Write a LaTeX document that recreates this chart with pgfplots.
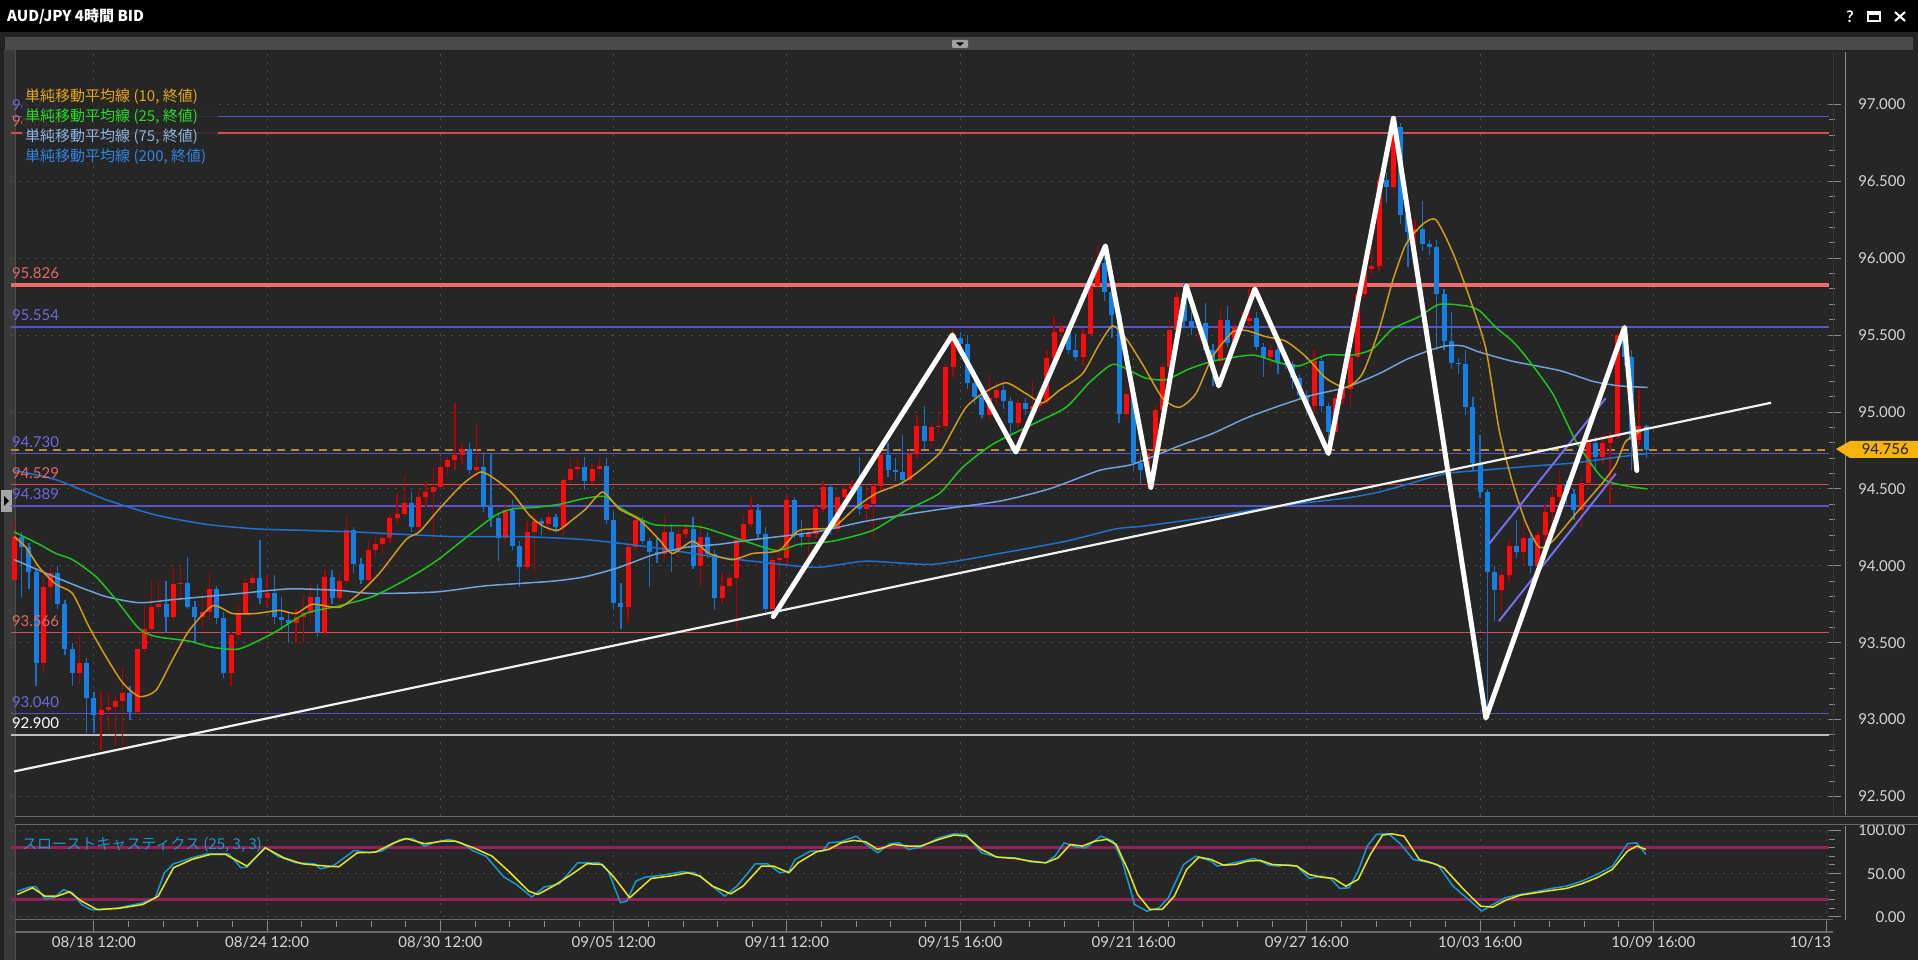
\documentclass[border=0pt]{standalone}
\usepackage{pgfplots}
\usepackage{pgfplotstable}
\pgfplotsset{compat=1.18}
\usepackage{fontspec}
\setmainfont{Lato}
\newfontfamily\jp{Noto Sans CJK JP}

\definecolor{winbg}{HTML}{232323}
\definecolor{plotbg}{HTML}{262626}
\definecolor{stripc}{HTML}{3A3A3A}
\definecolor{barc}{HTML}{4A4A4A}
\definecolor{gridc}{HTML}{4E4E4E}
\definecolor{tickc}{HTML}{8C8C8C}
\definecolor{lblc}{HTML}{D6D6D6}
\definecolor{sepc}{HTML}{6A6A6A}
\definecolor{hblue}{HTML}{5555C8}
\definecolor{hbluet}{HTML}{6A6AE0}
\definecolor{hred}{HTML}{D05050}
\definecolor{hredt}{HTML}{E06A6A}
\definecolor{hredk}{HTML}{F06A6A}
\definecolor{hwhite}{HTML}{BEBEBE}
\definecolor{upbody}{HTML}{FF0A0A}
\definecolor{upwick}{HTML}{B40000}
\definecolor{dnbody}{HTML}{1480E6}
\definecolor{dnwick}{HTML}{1A6EC8}
\definecolor{maA}{HTML}{D49A1A}
\definecolor{maB}{HTML}{1EC41E}
\definecolor{maC}{HTML}{6FA3D8}
\definecolor{maD}{HTML}{1C72D0}
\definecolor{legA}{HTML}{E6A817}
\definecolor{legB}{HTML}{22E022}
\definecolor{legC}{HTML}{8AB4E6}
\definecolor{legD}{HTML}{2E86E6}
\definecolor{chan}{HTML}{7070F0}
\definecolor{gold}{HTML}{F5B40A}
\definecolor{golddash}{HTML}{B48C32}
\definecolor{stK}{HTML}{1898CC}
\definecolor{stD}{HTML}{E8E620}
\definecolor{stL}{HTML}{96205A}

% 4h candles, bar index b (24 bars between date labels)
\pgfplotstableread{
b o h l c
1 93.91 94.29 93.90 94.19
2 94.19 94.22 93.80 94.12
3 94.12 94.15 93.85 93.96
4 93.96 93.98 93.22 93.37
5 93.37 93.97 93.30 93.86
6 93.86 93.99 93.78 93.95
7 93.95 94.00 93.72 93.75
8 93.75 93.78 93.42 93.46
9 93.46 93.50 93.22 93.30
10 93.30 93.55 93.23 93.37
11 93.37 93.40 92.91 93.14
12 93.14 93.18 92.91 93.03
13 93.03 93.18 92.80 93.06
14 93.06 93.18 92.91 93.08
15 93.08 93.16 92.83 93.12
16 93.12 93.34 92.83 93.17
17 93.17 93.22 93.00 93.05
18 93.05 93.47 93.03 93.46
19 93.46 93.74 93.44 93.59
20 93.59 93.91 93.52 93.73
21 93.73 93.91 93.70 93.75
22 93.75 93.90 93.56 93.67
23 93.67 94.00 93.65 93.88
24 93.88 94.00 93.77 93.89
25 93.89 94.06 93.72 93.73
26 93.73 93.77 93.50 93.67
27 93.67 93.80 93.60 93.70
28 93.70 93.95 93.65 93.85
29 93.85 93.87 93.62 93.66
30 93.66 93.70 93.27 93.30
31 93.30 93.57 93.22 93.55
32 93.55 93.75 93.52 93.69
33 93.69 93.93 93.66 93.89
34 93.89 93.96 93.85 93.92
35 93.92 94.17 93.75 93.79
36 93.79 93.94 93.74 93.82
37 93.82 93.94 93.62 93.67
38 93.67 93.80 93.58 93.65
39 93.65 93.70 93.50 93.63
40 93.63 93.72 93.50 93.67
41 93.67 93.81 93.49 93.69
42 93.69 93.88 93.63 93.80
43 93.80 93.88 93.54 93.57
44 93.57 93.97 93.55 93.93
45 93.93 93.97 93.75 93.79
46 93.79 93.95 93.77 93.90
47 93.90 94.33 93.88 94.23
48 94.23 94.25 93.95 94.01
49 94.01 94.05 93.88 93.91
50 93.91 94.17 93.88 94.10
51 94.10 94.20 94.05 94.14
52 94.14 94.22 94.08 94.18
53 94.18 94.33 94.15 94.31
54 94.31 94.47 94.28 94.34
55 94.34 94.59 94.32 94.41
56 94.41 94.48 94.22 94.25
57 94.25 94.48 94.23 94.45
58 94.45 94.55 94.38 94.48
59 94.48 94.64 94.17 94.51
60 94.51 94.70 94.49 94.64
61 94.64 94.71 94.60 94.69
62 94.69 95.06 94.62 94.72
63 94.72 94.79 94.66 94.76
64 94.76 94.80 94.60 94.62
65 94.62 94.93 94.58 94.64
66 94.64 94.73 94.35 94.38
67 94.38 94.73 94.25 94.31
68 94.31 94.34 94.03 94.18
69 94.18 94.40 94.15 94.36
70 94.36 94.43 94.10 94.13
71 94.13 94.16 93.86 93.99
72 93.99 94.29 93.97 94.22
73 94.22 94.33 93.95 94.29
74 94.29 94.31 94.20 94.27
75 94.27 94.35 94.22 94.32
76 94.32 94.34 94.22 94.25
77 94.25 94.58 94.19 94.56
78 94.56 94.71 94.54 94.63
79 94.63 94.70 94.58 94.64
80 94.64 94.71 94.49 94.55
81 94.55 94.66 94.53 94.63
82 94.63 94.70 94.60 94.65
83 94.65 94.70 94.27 94.30
84 94.30 94.35 93.71 93.76
85 93.76 93.89 93.59 93.73
86 93.73 94.14 93.63 94.12
87 94.12 94.33 94.10 94.30
88 94.30 94.32 94.14 94.16
89 94.16 94.18 93.86 94.09
90 94.09 94.18 94.02 94.08
91 94.08 94.33 94.05 94.22
92 94.22 94.27 93.96 94.11
93 94.11 94.25 94.05 94.21
94 94.21 94.27 94.18 94.24
95 94.24 94.32 93.98 94.00
96 94.00 94.27 93.87 94.19
97 94.19 94.22 94.05 94.08
98 94.08 94.10 93.71 93.79
99 93.79 93.95 93.76 93.87
100 93.87 93.95 93.84 93.92
101 93.92 94.19 93.59 94.17
102 94.17 94.33 94.14 94.27
103 94.27 94.45 94.25 94.36
104 94.36 94.40 94.18 94.21
105 94.21 94.25 93.70 93.72
106 93.72 94.06 93.66 94.04
107 94.04 94.15 93.90 94.05
108 94.05 94.46 94.01 94.43
109 94.43 94.45 94.18 94.20
110 94.20 94.30 94.12 94.19
111 94.19 94.25 94.02 94.21
112 94.21 94.40 94.18 94.37
113 94.37 94.55 94.35 94.51
114 94.51 94.53 94.20 94.24
115 94.24 94.47 94.22 94.45
116 94.45 94.52 94.40 94.50
117 94.50 94.56 94.46 94.52
118 94.52 94.71 94.33 94.37
119 94.37 94.52 94.30 94.40
120 94.40 94.55 94.18 94.52
121 94.52 94.76 94.48 94.72
122 94.72 94.80 94.58 94.62
123 94.62 94.70 94.55 94.61
124 94.61 94.85 94.52 94.56
125 94.56 94.76 94.52 94.73
126 94.73 94.98 94.70 94.91
127 94.91 95.04 94.76 94.81
128 94.81 94.93 94.78 94.90
129 94.90 95.00 94.86 94.91
130 94.91 95.32 94.88 95.29
131 95.29 95.53 95.23 95.48
132 95.48 95.52 95.40 95.44
133 95.44 95.50 95.15 95.19
134 95.19 95.22 95.05 95.10
135 95.10 95.14 94.96 94.98
136 94.98 95.25 94.95 95.09
137 95.09 95.20 95.05 95.14
138 95.14 95.18 95.02 95.07
139 95.07 95.10 94.74 94.93
140 94.93 95.08 94.90 95.06
141 95.06 95.09 94.98 95.02
142 95.02 95.20 94.98 95.04
143 95.04 95.12 95.00 95.07
144 95.07 95.40 95.05 95.35
145 95.35 95.62 95.33 95.52
146 95.52 95.58 95.45 95.55
147 95.55 95.57 95.38 95.40
148 95.40 95.51 95.33 95.36
149 95.36 95.54 95.30 95.51
150 95.51 95.86 95.49 95.82
151 95.82 96.08 95.80 95.97
152 95.97 96.08 95.72 95.78
153 95.78 95.80 95.48 95.63
154 95.63 95.65 94.93 94.99
155 94.99 95.16 94.95 95.12
156 95.12 95.15 94.62 94.67
157 94.67 94.72 94.53 94.62
158 94.62 94.75 94.51 94.73
159 94.73 95.05 94.70 95.01
160 95.01 95.32 94.98 95.29
161 95.29 95.60 95.25 95.53
162 95.53 95.78 95.50 95.75
163 95.75 95.83 95.55 95.59
164 95.59 95.66 95.50 95.55
165 95.55 95.62 95.48 95.58
166 95.58 95.71 95.38 95.40
167 95.40 95.44 95.17 95.33
168 95.33 95.68 95.30 95.60
169 95.60 95.69 95.42 95.45
170 95.45 95.58 95.40 95.55
171 95.55 95.65 95.52 95.59
172 95.59 95.80 95.55 95.61
173 95.61 95.65 95.40 95.42
174 95.42 95.45 95.23 95.36
175 95.36 95.45 95.30 95.40
176 95.40 95.46 95.25 95.32
177 95.32 95.36 95.28 95.31
178 95.31 95.33 95.15 95.22
179 95.22 95.25 95.08 95.11
180 95.11 95.14 94.98 95.04
181 95.04 95.40 95.00 95.33
182 95.33 95.36 95.00 95.04
183 95.04 95.06 94.73 94.87
184 94.87 95.12 94.85 95.09
185 95.09 95.18 95.05 95.15
186 95.15 95.40 95.03 95.36
187 95.36 95.80 95.33 95.77
188 95.77 95.97 95.74 95.93
189 95.93 96.10 95.90 95.95
190 95.95 96.54 95.92 96.51
191 96.51 96.56 96.36 96.46
192 96.46 96.91 96.42 96.85
193 96.85 96.88 96.22 96.28
194 96.28 96.32 95.94 96.17
195 96.17 96.25 96.02 96.19
196 96.19 96.37 96.05 96.09
197 96.09 96.12 96.02 96.07
198 96.07 96.12 95.40 95.77
199 95.77 95.80 95.40 95.46
200 95.46 95.65 95.28 95.32
201 95.32 95.35 95.25 95.31
202 95.31 95.40 94.98 95.03
203 95.03 95.10 94.62 94.67
204 94.67 94.85 94.44 94.48
205 94.48 94.50 93.01 93.96
206 93.96 94.00 93.64 93.84
207 93.84 93.98 93.70 93.94
208 93.94 94.16 93.90 94.13
209 94.13 94.30 94.05 94.09
210 94.09 94.30 94.00 94.18
211 94.18 94.22 93.95 94.00
212 94.00 94.22 93.97 94.20
213 94.20 94.40 94.15 94.35
214 94.35 94.50 94.25 94.45
215 94.45 94.62 94.40 94.53
216 94.53 94.56 94.40 94.47
217 94.47 94.50 94.30 94.36
218 94.36 94.58 94.25 94.54
219 94.54 94.84 94.50 94.80
220 94.80 94.84 94.62 94.71
221 94.71 94.85 94.66 94.80
222 94.80 94.87 94.40 94.84
223 94.84 95.52 94.82 95.50
224 95.50 95.56 95.30 95.36
225 95.36 95.40 94.62 94.82
226 94.82 95.14 94.78 94.91
227 94.91 94.92 94.70 94.756
}\candles

\pgfplotstableread{
b v
0.97 94.19
2.59 94.12
4.44 93.99
6.74 93.88
9.05 93.82
11.36 93.60
13.67 93.41
15.98 93.24
18.29 93.15
20.60 93.19
22.90 93.39
25.21 93.58
28.44 93.74
31.21 93.69
34.45 93.69
37.68 93.71
39.98 93.69
42.29 93.75
45.99 93.73
48.76 93.82
51.53 93.95
55.22 94.17
57.07 94.22
59.84 94.37
63.07 94.53
65.61 94.61
67.69 94.56
69.99 94.47
72.30 94.33
74.15 94.26
76.23 94.23
78.30 94.30
80.15 94.37
82.46 94.48
84.77 94.37
87.54 94.30
90.31 94.17
92.15 94.08
94.92 94.16
97.23 94.08
100.46 94.04
103.23 94.08
106.93 94.10
109.70 94.23
114.31 94.25
117.55 94.38
120.32 94.47
123.55 94.53
125.86 94.60
129.09 94.73
130.93 94.88
132.78 95.03
135.09 95.12
138.32 95.19
141.09 95.12
143.40 95.06
145.71 95.14
148.94 95.25
151.25 95.44
153.10 95.56
154.94 95.48
157.25 95.31
160.02 95.09
162.33 95.03
164.64 95.12
166.94 95.36
169.71 95.52
171.56 95.53
174.33 95.49
177.10 95.46
179.87 95.36
182.64 95.22
185.41 95.16
187.72 95.25
190.03 95.54
191.87 95.85
193.72 96.09
196.03 96.22
197.88 96.25
200.18 96.04
202.49 95.75
204.80 95.41
206.65 94.88
208.49 94.54
210.34 94.28
212.20 94.12
214.04 94.16
217.28 94.34
220.97 94.54
222.82 94.66
224.20 94.81
227.20 94.90
}\maten

\pgfplotstableread{
b v
0.97 94.22
4.44 94.14
6.74 94.08
9.05 94.04
12.28 93.93
15.06 93.78
18.29 93.59
20.60 93.54
25.21 93.51
28.44 93.47
32.14 93.46
36.76 93.56
41.37 93.69
45.99 93.74
50.60 93.80
55.22 93.91
59.38 94.03
63.99 94.20
67.69 94.33
69.99 94.37
73.23 94.38
76.46 94.40
80.15 94.44
82.92 94.45
84.77 94.38
89.38 94.27
94.00 94.26
96.31 94.25
100.93 94.18
106.47 94.10
109.70 94.14
114.31 94.16
119.85 94.23
124.47 94.36
129.09 94.47
132.32 94.64
136.47 94.79
142.02 94.92
146.63 95.03
149.86 95.19
153.10 95.31
155.86 95.26
157.71 95.22
160.48 95.21
163.71 95.28
166.94 95.33
172.48 95.37
176.18 95.32
178.95 95.30
182.64 95.37
186.33 95.37
189.10 95.41
191.87 95.54
195.57 95.62
198.34 95.70
202.03 95.69
203.88 95.66
206.19 95.55
208.49 95.46
210.34 95.36
214.04 95.12
217.28 94.81
220.97 94.57
224.20 94.52
227.20 94.50
}\matwentyfive

\pgfplotstableread{
b v
0.97 94.04
4.44 93.97
9.05 93.88
13.67 93.80
18.29 93.76
22.90 93.78
27.52 93.80
32.14 93.82
39.06 93.85
45.99 93.84
50.60 93.82
59.38 93.83
66.30 93.87
75.53 93.90
80.15 93.93
84.77 93.99
89.38 94.07
94.00 94.12
98.62 94.14
103.23 94.17
112.00 94.22
118.93 94.29
128.16 94.36
137.40 94.42
144.32 94.50
151.25 94.62
155.86 94.66
162.33 94.78
166.94 94.86
171.56 94.96
176.18 95.04
180.79 95.11
185.41 95.16
190.03 95.25
193.72 95.34
196.95 95.40
199.26 95.43
201.57 95.43
203.88 95.39
208.49 95.33
214.97 95.27
219.58 95.20
223.28 95.17
227.20 95.16
}\maseventyfive

\pgfplotstableread{
b v
0.97 94.62
6.74 94.56
13.67 94.43
20.60 94.33
27.52 94.27
34.45 94.24
41.37 94.23
48.30 94.22
52.45 94.21
61.68 94.19
70.92 94.19
80.15 94.17
89.38 94.12
96.31 94.07
103.23 94.03
112.00 93.99
118.93 94.03
128.16 94.01
137.40 94.08
146.63 94.16
153.56 94.24
157.71 94.26
166.94 94.32
176.18 94.39
185.41 94.44
190.03 94.48
194.65 94.54
199.26 94.60
203.88 94.62
211.73 94.65
217.28 94.67
221.89 94.70
227.20 94.73
}\matwohundred

\pgfplotstableread{
b v
1.40 29.7
3.10 34.4
3.95 35.1
5.22 21.2
6.49 22.0
7.76 31.3
9.04 27.8
10.31 14.3
11.58 8.5
12.85 8.1
15.40 10.4
18.80 16.2
20.50 22.0
21.76 51.0
23.03 61.4
25.58 68.3
27.70 73.0
30.67 73.0
32.36 56.8
33.21 57.5
35.75 80.7
37.45 70.3
40.00 62.5
42.54 61.4
43.39 55.6
45.10 58.7
48.05 76.8
50.17 74.1
51.87 76.1
54.41 89.6
56.11 90.7
57.81 81.9
59.50 86.9
61.20 89.6
62.90 85.7
64.59 76.1
66.29 70.3
68.83 45.9
70.53 37.5
72.65 22.8
74.35 34.4
76.47 38.2
79.01 62.5
81.98 62.5
83.25 52.9
84.95 16.2
85.80 18.1
87.07 41.3
88.34 45.9
90.88 48.3
93.43 52.1
95.13 51.0
96.82 41.3
99.37 23.9
101.06 35.5
103.61 61.4
105.30 61.4
107.00 51.0
108.27 52.9
109.12 66.4
111.24 76.1
112.94 76.1
113.79 85.7
115.48 86.9
117.60 93.4
118.88 84.6
120.57 74.1
122.27 84.6
123.54 85.7
124.81 78.0
126.51 80.7
129.05 91.5
131.12 96.1
132.82 95.4
134.94 74.1
137.06 69.1
139.60 68.3
141.72 63.7
143.84 62.5
145.11 70.3
146.39 85.7
148.08 80.7
149.36 79.9
151.48 93.4
153.17 87.6
154.44 64.5
156.14 14.3
157.84 6.6
159.53 10.4
160.81 22.0
162.93 60.6
164.62 70.3
166.74 64.5
167.59 58.7
168.86 60.6
170.56 63.7
172.68 67.6
174.80 59.8
176.07 58.7
177.35 60.6
178.62 58.7
180.32 44.4
182.01 47.1
183.28 44.4
184.55 32.8
185.83 33.6
187.10 52.9
188.37 81.9
189.64 95.4
191.34 96.1
193.04 83.8
194.73 66.4
196.43 63.7
198.12 60.6
200.25 35.5
202.37 20.1
204.23 6.6
205.76 14.3
207.46 22.0
209.57 25.9
211.70 29.0
213.82 32.8
215.94 35.5
218.06 41.3
220.18 49.0
222.30 58.3
224.42 84.6
225.69 85.7
226.96 72.2
}\stochk

\pgfplotstableread{
b v
1.40 25.9
3.52 33.6
5.22 23.9
6.92 23.9
8.61 29.0
10.31 18.1
12.43 8.5
15.40 9.7
18.79 14.3
20.91 23.9
23.03 56.8
25.58 66.4
28.12 72.2
30.24 72.2
31.94 64.5
33.21 58.7
35.75 79.9
38.30 68.3
40.84 61.4
44.24 58.7
45.93 57.9
48.48 74.1
51.02 74.9
53.57 85.7
55.26 90.7
57.81 84.6
60.35 87.6
62.05 87.6
64.59 79.9
67.14 70.3
69.68 51.0
72.23 29.7
73.50 25.9
75.62 35.5
78.16 49.0
80.28 61.4
82.40 60.6
84.10 45.2
86.22 22.0
87.49 31.7
89.19 44.4
91.73 47.1
94.28 51.0
95.97 47.1
97.67 35.5
100.21 26.6
101.91 35.5
104.46 58.7
106.15 58.7
108.27 51.0
109.54 62.5
112.09 75.3
113.79 78.0
115.48 85.7
117.18 88.4
118.88 86.9
120.57 78.0
122.69 83.8
124.81 81.9
126.51 81.9
129.05 89.6
131.12 94.6
132.82 93.4
134.94 78.0
137.06 69.1
139.60 67.6
141.72 64.5
143.84 62.5
145.54 68.3
147.24 83.8
148.93 81.9
150.63 87.6
152.32 89.6
153.60 83.8
155.29 52.9
156.56 25.9
158.26 8.5
159.96 8.5
161.65 23.9
163.35 54.8
165.05 69.1
166.74 66.4
168.44 59.8
170.14 60.6
171.83 64.5
173.53 65.3
175.23 60.6
176.92 59.8
178.62 58.7
180.32 49.0
182.01 45.9
183.71 44.4
185.40 35.5
187.10 43.2
188.80 72.2
190.49 94.6
191.76 96.1
193.46 93.4
195.58 66.4
197.28 62.5
198.97 56.8
201.52 33.6
204.06 12.4
205.76 11.2
207.46 18.9
209.57 25.1
211.70 27.8
213.82 30.5
215.94 32.8
218.06 38.2
220.18 45.2
222.30 54.8
224.42 76.1
225.69 81.9
226.96 78.0
}\stochd

\pgfplotsset{
  candle/.style={draw=none, mark=none, forget plot,
    error bars/y dir=plus, error bars/y explicit, error bars/error mark=none},
  hline/.style={forget plot, line width=#1},
}

\begin{document}
\begin{tikzpicture}[x=1pt,y=1pt]
% window chrome (y measured upward from the bottom edge)
\fill[winbg] (0,0) rectangle (1918,960);
\fill[black] (0,960) rectangle (1918,928);
\node[anchor=west, text=white, inner sep=0pt, font=\jp\bfseries\fontsize{15}{18}\selectfont] at (7,944) {AUD/JPY 4時間 BID};
\node[text=white, font=\bfseries\fontsize{16}{18}\selectfont] at (1850,943) {?};
\draw[white, line width=1.5pt] (1868,948) rectangle (1880,939);
\fill[white] (1868,948) rectangle (1880,945);
\draw[white, line width=2pt] (1895,948) -- (1905,939) (1905,948) -- (1895,939);
\fill[barc] (5,923) rectangle (1913,910);
\fill[gray!75!white, rounded corners=1pt] (952,920) rectangle (968,912);
\fill[black] (956,917.5) -- (964,917.5) -- (960,914) -- cycle;
\fill[plotbg] (15,908) rectangle (1918,0);
\fill[stripc] (4,910) rectangle (15,0);
\draw[gray!60!black] (15.5,910) -- (15.5,0);
\fill[gray!70!white] (1,470) rectangle (12,448);
\fill[black] (4,464) -- (9,459) -- (4,454) -- cycle;

% price panel
\begin{axis}[
  at={(15,93.7)}, anchor=south west, scale only axis,
  width=1818pt, height=763pt,
  xmin=0.5, xmax=252.3, ymin=92.374, ymax=97.335,
  axis line style={draw=none},
  xtick={12,36,...,228}, xticklabels={},
  major x tick style={draw=none},
  ytick={92.5,93,...,97},
  yticklabels={92.500,93.000,93.500,94.000,94.500,95.000,95.500,96.000,96.500,97.000},
  minor y tick num=4,
  ytick pos=right, tick align=outside,
  major tick length=12pt, minor tick length=6pt,
  y tick style={draw=tickc, line width=1pt},
  yticklabel style={anchor=east, xshift=68pt, text=lblc, font=\fontsize{15}{18}\selectfont},
  xmajorgrids, ymajorgrids,
  major grid style={draw=gridc, line width=1pt, dash pattern=on 2pt off 6pt},
]
% horizontal levels
\addplot[hline=1.5pt, hblue] coordinates {(0.5,96.921) (252.3,96.921)};
\addplot[hline=1.5pt, hred] coordinates {(0.5,96.814) (252.3,96.814)};
\addplot[hline=4pt, hredk] coordinates {(0.5,95.826) (252.3,95.826)};
\addplot[hline=1.5pt, hblue] coordinates {(0.5,95.554) (252.3,95.554)};
\addplot[hline=1.5pt, hblue] coordinates {(0.5,94.730) (252.3,94.730)};
\addplot[hline=1.5pt, hred] coordinates {(0.5,94.529) (252.3,94.529)};
\addplot[hline=1.5pt, hblue] coordinates {(0.5,94.389) (252.3,94.389)};
\addplot[hline=1.5pt, hred] coordinates {(0.5,93.566) (252.3,93.566)};
\addplot[hline=1.5pt, hblue] coordinates {(0.5,93.040) (252.3,93.040)};
\addplot[hline=2pt, hwhite] coordinates {(0.5,92.900) (252.3,92.900)};
\addplot[hline=2pt, golddash, dash pattern=on 8pt off 6pt] coordinates {(0.5,94.756) (252.3,94.756)};

% candles: wicks then bodies
\addplot[candle, restrict expr to domain={\thisrow{c}-\thisrow{o}}{0:10},
  error bars/error bar style={draw=upwick, line width=1.3pt}]
  table[x=b, y=l, y error plus expr=\thisrow{h}-\thisrow{l}] {\candles};
\addplot[candle, restrict expr to domain={\thisrow{c}-\thisrow{o}}{-10:0},
  error bars/error bar style={draw=dnwick, line width=1.3pt}]
  table[x=b, y=l, y error plus expr=\thisrow{h}-\thisrow{l}] {\candles};
\addplot[candle, restrict expr to domain={\thisrow{c}-\thisrow{o}}{0:10},
  error bars/error bar style={draw=upbody, line width=5pt}]
  table[x=b, y=o, y error plus expr=\thisrow{c}-\thisrow{o}] {\candles};
\addplot[candle, restrict expr to domain={\thisrow{c}-\thisrow{o}}{-10:0},
  error bars/error bar style={draw=dnbody, line width=5pt}]
  table[x=b, y=c, y error plus expr=\thisrow{o}-\thisrow{c}] {\candles};

% moving averages
\addplot[maD, line width=1.5pt, smooth, tension=0.4, forget plot] table[x=b, y=v] {\matwohundred};
\addplot[maC, line width=1.5pt, smooth, tension=0.4, forget plot] table[x=b, y=v] {\maseventyfive};
\addplot[maB, line width=1.5pt, smooth, tension=0.4, forget plot] table[x=b, y=v] {\matwentyfive};
\addplot[maA, line width=1.5pt, smooth, tension=0.4, forget plot] table[x=b, y=v] {\maten};

% drawn trend lines
\addplot[chan, line width=2pt, forget plot] coordinates {(205.2,94.14) (221.4,95.09)};
\addplot[chan, line width=2pt, forget plot] coordinates {(206.6,93.64) (222.8,94.60)};
\addplot[white!90!gray, line width=2.2pt, forget plot] coordinates {(0.97,92.663) (244.3,95.06)};
\addplot[white, line width=5pt, line join=round, line cap=round, forget plot] coordinates {
  (106.1,93.67) (130.9,95.50) (139.7,94.74) (152.1,96.08) (158.4,94.51)
  (163.3,95.82) (167.8,95.17) (172.8,95.80) (183.0,94.73) (192.0,96.91)
  (204.8,93.01) (224.0,95.55) (225.7,94.62)};

% level labels
\begin{scope}[every node/.style={anchor=south west, inner sep=1pt, yshift=5pt, font=\fontsize{15}{18}\selectfont}]
\node[text=hbluet] at (axis cs:0.5,96.921) {96.921};
\node[text=hredt] at (axis cs:0.5,96.814) {96.814};
\node[text=hredt] at (axis cs:0.5,95.826) {95.826};
\node[text=hbluet] at (axis cs:0.5,95.554) {95.554};
\node[text=hbluet] at (axis cs:0.5,94.730) {94.730};
\node[text=hredt] at (axis cs:0.5,94.529) {94.529};
\node[text=hbluet] at (axis cs:0.5,94.389) {94.389};
\node[text=hredt] at (axis cs:0.5,93.566) {93.566};
\node[text=hbluet] at (axis cs:0.5,93.040) {93.040};
\node[text=white] at (axis cs:0.5,92.900) {92.900};
\end{scope}
\end{axis}

% stochastics panel
\begin{axis}[
  at={(15,45)}, anchor=south west, scale only axis,
  width=1818pt, height=95.7pt,
  xmin=0.5, xmax=252.3, ymin=-4.98, ymax=105.8,
  axis line style={draw=none},
  xtick={12,36,...,228},
  xticklabels={08/18 12:00,08/24 12:00,08/30 12:00,09/05 12:00,09/11 12:00,09/15 16:00,09/21 16:00,09/27 16:00,10/03 16:00,10/09 16:00},
  extra x ticks={252}, extra x tick labels={10/13},
  extra x tick style={xticklabel style={anchor=north east, xshift=8pt}},
  minor x tick num=4,
  xtick pos=bottom, ytick pos=right, tick align=outside,
  major tick length=12pt, minor tick length=6pt,
  tick style={draw=tickc, line width=1pt},
  ytick={0,50,100}, yticklabels={0.00,50.00,100.00},
  minor y tick num=4,
  yticklabel style={anchor=east, xshift=68pt, text=lblc, font=\fontsize{15}{18}\selectfont},
  xticklabel style={text=lblc, font=\fontsize{15}{18}\selectfont},
  xmajorgrids, ymajorgrids,
  major grid style={draw=gridc, line width=1pt, dash pattern=on 2pt off 6pt},
]
\addplot[hline=3pt, stL] coordinates {(0.5,80) (252.3,80)};
\addplot[hline=3pt, stL] coordinates {(0.5,20) (252.3,20)};
\addplot[stK, line width=1.5pt, line join=round, forget plot] table[x=b, y=v] {\stochk};
\addplot[stD, line width=1.5pt, line join=round, forget plot] table[x=b, y=v] {\stochd};
\end{axis}

% panel frames and axis lines
\fill[plotbg] (15,144) rectangle (1918,136);
\draw[sepc, line width=1.5pt] (15,143.3) -- (1918,143.3);
\draw[sepc, line width=1.5pt] (15,135.7) -- (1918,135.7);
\draw[tickc, line width=1pt] (1845,908) -- (1845,145);
\draw[tickc, line width=1pt] (1845,134) -- (1845,40);
\draw[gray!45!black, line width=1pt] (1833,908) -- (1833,145);
\draw[sepc, line width=1pt] (15,40) -- (1833,40);
\draw[sepc, line width=1.5pt] (15,28) -- (1833,28);

% current price marker
\fill[gold] (1836,511) -- (1850,519) -- (1918,519) -- (1918,502) -- (1850,502) -- cycle;
\node[anchor=east, inner sep=0pt, text=black!85!gold, font=\fontsize{15}{18}\selectfont] at (1909,510.5) {94.756};

% indicator legends
\fill[plotbg, opacity=0.85] (22,874) rectangle (218,794);
\begin{scope}[every node/.style={anchor=west, inner sep=0pt, font=\jp\fontsize{15}{18}\selectfont}]
\node[text=legA] at (25,863) {単純移動平均線 (10, 終値)};
\node[text=legB] at (25,843) {単純移動平均線 (25, 終値)};
\node[text=legC] at (25,823) {単純移動平均線 (75, 終値)};
\node[text=legD] at (25,803) {単純移動平均線 (200, 終値)};
\node[text=stK] at (22,115) {スローストキャスティクス (25, 3, 3)};
\end{scope}

\pgfresetboundingbox
\path[use as bounding box] (0,0) rectangle (1918,960);
\end{tikzpicture}
\end{document}
